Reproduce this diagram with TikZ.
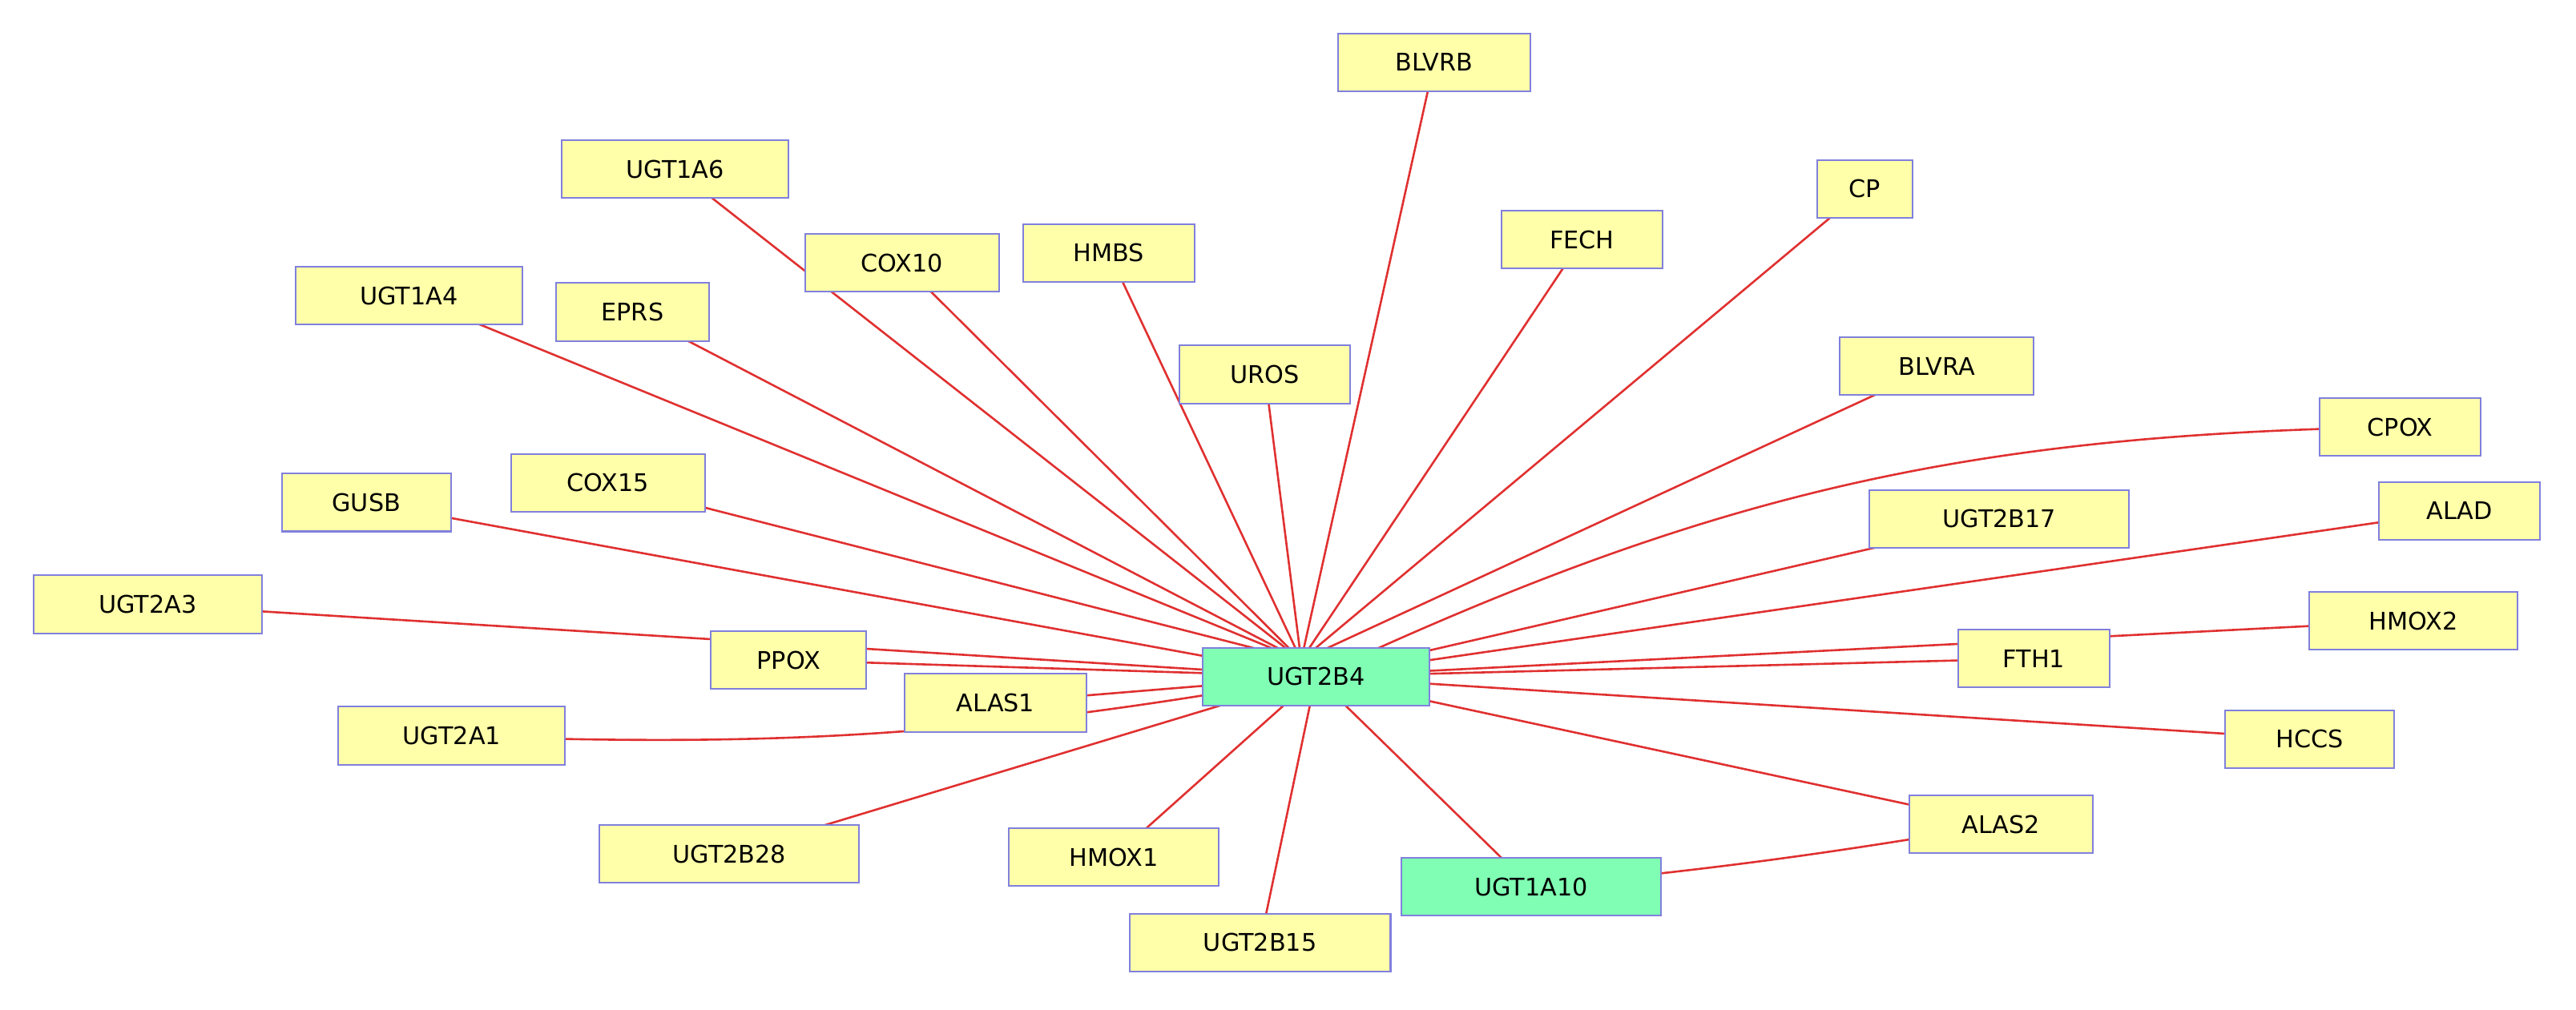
\documentclass[tikz,border=0pt]{standalone}
\usepackage{fontspec}
\setmainfont{DejaVu Sans}
\usetikzlibrary{backgrounds}
\definecolor{genefill}{HTML}{FFFFAA}
\definecolor{hubfill}{HTML}{80FFB4}
\definecolor{geneline}{HTML}{8080DD}
\definecolor{edgered}{HTML}{E03030}
\tikzset{
	gene/.style={draw=geneline, fill=genefill, line width=0.7pt, minimum height=0.88cm, inner sep=0pt, font=\fontsize{10.5}{12}\selectfont},
	hub/.style={gene, fill=hubfill},
	link/.style={draw=edgered, line width=0.9pt}
}
\begin{document}
\begin{tikzpicture}[x=0.025cm, y=-0.025cm]
	\useasboundingbox (0,0) rectangle (1568,615);

	% Hub nodes
	\node[hub, minimum width=3.45cm] (UGT2B4) at (801,412) {UGT2B4};
	\node[hub, minimum width=3.95cm] (UGT1A10) at (932,540) {UGT1A10};
	\coordinate (hubtop) at (792,402);

	% Gene nodes
	\node[gene, minimum width=2.92cm] (BLVRB) at (873,38) {BLVRB};
	\node[gene, minimum width=3.45cm] (UGT1A6) at (411,103) {UGT1A6};
	\node[gene, minimum width=1.45cm] (CP) at (1135,115) {CP};
	\node[gene, minimum width=2.45cm] (FECH) at (963,146) {FECH};
	\node[gene, minimum width=2.95cm] (COX10) at (549,160) {COX10};
	\node[gene, minimum width=2.6cm] (HMBS) at (675,154) {HMBS};
	\node[gene, minimum width=3.45cm] (UGT1A4) at (249,180) {UGT1A4};
	\node[gene, minimum width=2.32cm] (EPRS) at (385,190) {EPRS};
	\node[gene, minimum width=2.6cm] (UROS) at (770,228) {UROS};
	\node[gene, minimum width=2.95cm] (BLVRA) at (1179,223) {BLVRA};
	\node[gene, minimum width=2.45cm] (CPOX) at (1461,260) {CPOX};
	\node[gene, minimum width=2.57cm] (GUSB) at (223,306) {GUSB};
	\node[gene, minimum width=2.95cm] (COX15) at (370,294) {COX15};
	\node[gene, minimum width=3.95cm] (UGT2B17) at (1217,316) {UGT2B17};
	\node[gene, minimum width=2.45cm] (ALAD) at (1497,311) {ALAD};
	\node[gene, minimum width=3.47cm] (UGT2A3) at (90,368) {UGT2A3};
	\node[gene, minimum width=2.37cm] (PPOX) at (480,402) {PPOX};
	\node[gene, minimum width=2.77cm] (ALAS1) at (606,428) {ALAS1};
	\node[gene, minimum width=2.3cm] (FTH1) at (1238,401) {FTH1};
	\node[gene, minimum width=3.17cm] (HMOX2) at (1469,378) {HMOX2};
	\node[gene, minimum width=3.45cm] (UGT2A1) at (275,448) {UGT2A1};
	\node[gene, minimum width=2.57cm] (HCCS) at (1406,450) {HCCS};
	\node[gene, minimum width=3.95cm] (UGT2B28) at (444,520) {UGT2B28};
	\node[gene, minimum width=3.2cm] (HMOX1) at (678,522) {HMOX1};
	\node[gene, minimum width=2.8cm] (ALAS2) at (1218,502) {ALAS2};
	\node[gene, minimum width=3.97cm] (UGT2B15) at (767,574) {UGT2B15};

	% Connectors
	\begin{pgfonlayer}{background}
		\foreach \g in {BLVRB,UGT1A6,CP,FECH,COX10,HMBS,UGT1A4,EPRS,UROS,BLVRA,COX15}
			\draw[link] (hubtop) -- (\g.center);
		\foreach \g in {GUSB,UGT2B17,ALAD,UGT2A3,PPOX,ALAS1,FTH1,HMOX2,HCCS,UGT2B28,HMOX1,UGT2B15,ALAS2,UGT1A10}
			\draw[link] (UGT2B4.center) -- (\g.center);
		\draw[link] (UGT2B4.center) to[bend left=12] (CPOX.center);
		\draw[link] (UGT2B4.center) to[bend left=6] (UGT2A1.center);
		\draw[link] (UGT1A10.center) to[bend right=2] (ALAS2.center);
	\end{pgfonlayer}
\end{tikzpicture}
\end{document}
